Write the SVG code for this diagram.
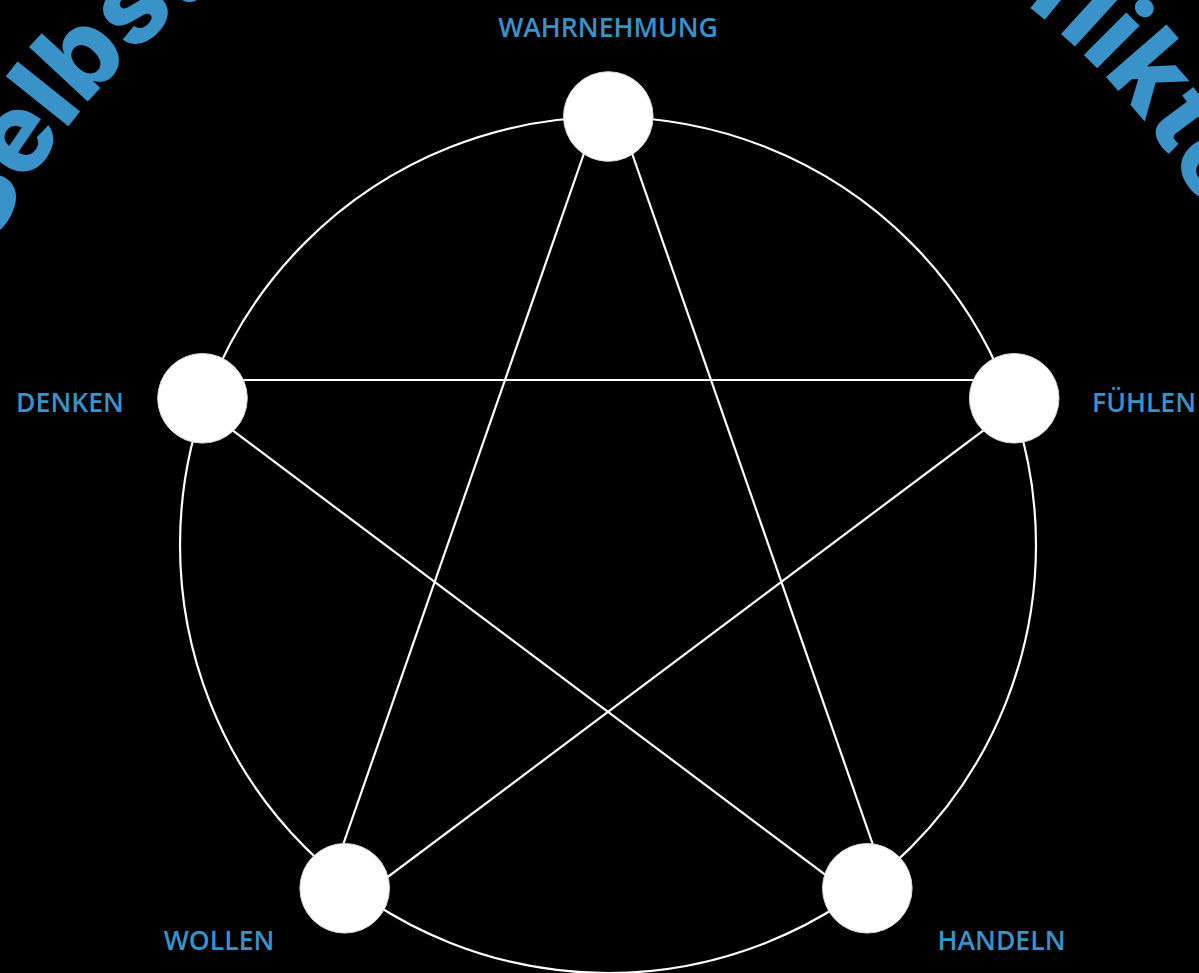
<svg xmlns="http://www.w3.org/2000/svg" width="1199" height="973" viewBox="0 0 1199 973">
<defs>
<style>
.lbl{font-family:"Open Sans","Liberation Sans",sans-serif;font-weight:600;font-size:26.6px;fill:#3a93c8;text-anchor:middle}
.arc{font-family:Inter,"Open Sans","Liberation Sans",sans-serif;font-weight:800;font-size:110px;fill:#3a93c8}
.edge{stroke:#ffffff;stroke-width:2.2;fill:none}
.node{fill:#ffffff;stroke:#d6d6d6;stroke-width:1}
</style>
<path id="ring" d="M -75 545 A 683 683 0 1 1 1291 545"/>
</defs>
<rect x="0" y="0" width="1199" height="973" fill="#000000"/>
<g id="title">
<text class="arc"><textPath href="#ring" startOffset="306">Selbst</textPath></text>
<text class="arc"><textPath href="#ring" startOffset="1302">Konflikte</textPath></text>
</g>
<g id="connectors">
<circle class="edge" cx="608" cy="545" r="428"/>
<line class="edge" x1="597" y1="116" x2="328" y2="888"/>
<line class="edge" x1="619" y1="116" x2="888" y2="888"/>
<line class="edge" x1="202" y1="380" x2="1014" y2="380"/>
<line class="edge" x1="202" y1="407.5" x2="867" y2="906"/>
<line class="edge" x1="1014" y1="407.5" x2="349" y2="906"/>
</g>
<g id="wahrnehmung">
<circle class="node" cx="608.3" cy="116.5" r="44.8"/>
<text class="lbl" x="608" y="36.5">WAHRNEHMUNG</text>
</g>
<g id="denken">
<circle class="node" cx="202.5" cy="398.3" r="44.8"/>
<text class="lbl" x="70" y="412">DENKEN</text>
</g>
<g id="fuehlen">
<circle class="node" cx="1014.2" cy="398.3" r="44.8"/>
<text class="lbl" x="1144" y="412">FÜHLEN</text>
</g>
<g id="wollen">
<circle class="node" cx="344.7" cy="888.3" r="44.8"/>
<text class="lbl" x="219" y="949.5">WOLLEN</text>
</g>
<g id="handeln">
<circle class="node" cx="867.3" cy="888.3" r="44.8"/>
<text class="lbl" x="1001.5" y="949.5">HANDELN</text>
</g>
</svg>
